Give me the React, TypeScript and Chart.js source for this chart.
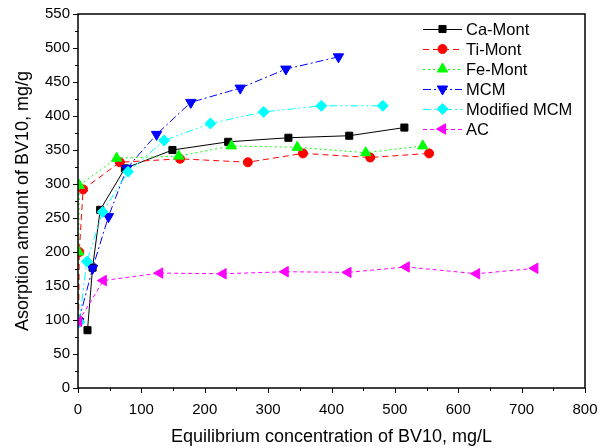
import React, { useEffect, useRef } from "react";
import { Chart, registerables } from "chart.js";

Chart.register(...registerables);

// ---- data ----
const caMontX = [15, 23, 35, 74, 149, 237, 332, 428, 515];
const caMontY = [85, 177, 262, 323, 350, 362, 368, 371, 383];

const tiMontX = [1, 2, 8, 66, 161, 268, 355, 461, 554];
const tiMontY = [100, 200, 292, 332, 337, 332, 345, 339, 345];

const feMontX = [0, 1, 2, 61, 159, 242, 346, 454, 544];
const feMontY = [100, 200, 298, 338, 341, 356, 354, 346, 356];

const mcmX = [1, 23, 48, 77, 124, 178, 256, 328, 411];
const mcmY = [98, 176, 252, 323, 373, 420, 441, 469, 487];

const modMcmX = [2, 14, 39, 79, 136, 209, 293, 384, 481];
const modMcmY = [97, 186, 259, 318, 364, 389, 406, 415, 415];

const acX = [1, 40, 129, 229, 327, 426, 518, 629, 721];
const acY = [98, 158, 169, 168, 171, 170, 178, 168, 176];

const seriesLabels = ["Ca-Mont", "Ti-Mont", "Fe-Mont", "MCM", "Modified MCM", "AC"];

const xTitle = "Equilibrium concentration of BV10, mg/L";
const yTitle = "Asorption amount of BV10, mg/g";

const FONT = "'Liberation Sans', Arial, sans-serif";

const styles = [
  { color: "#000000", dash: [] as number[], point: "rect", rot: 0, r: 5 },
  { color: "#ff0000", dash: [6, 4], point: "circle", rot: 0, r: 4.5 },
  { color: "#00ff00", dash: [2, 3], point: "triangle", rot: 0, r: 6 },
  { color: "#0000ff", dash: [8, 3, 2, 3], point: "triangle", rot: 180, r: 6 },
  { color: "#00ffff", dash: [8, 3, 2, 3, 2, 3], point: "rectRot", rot: 0, r: 5.5 },
  { color: "#ff00ff", dash: [4, 3], point: "triangle", rot: 270, r: 6 },
];

const xs = [caMontX, tiMontX, feMontX, mcmX, modMcmX, acX];
const ys = [caMontY, tiMontY, feMontY, mcmY, modMcmY, acY];

function drawMarker(ctx: CanvasRenderingContext2D, style: string, x: number, y: number, r: number, rotDeg: number) {
  const rad = (rotDeg * Math.PI) / 180;
  ctx.beginPath();
  if (style === "circle") {
    ctx.arc(x, y, r, 0, Math.PI * 2);
  } else if (style === "rect") {
    const s = Math.SQRT1_2 * r;
    ctx.rect(x - s, y - s, 2 * s, 2 * s);
  } else if (style === "rectRot") {
    ctx.moveTo(x, y - r);
    ctx.lineTo(x + r, y);
    ctx.lineTo(x, y + r);
    ctx.lineTo(x - r, y);
    ctx.closePath();
  } else if (style === "triangle") {
    let a = rad;
    ctx.moveTo(x + Math.sin(a) * r, y - Math.cos(a) * r);
    a += (2 * Math.PI) / 3;
    ctx.lineTo(x + Math.sin(a) * r, y - Math.cos(a) * r);
    a += (2 * Math.PI) / 3;
    ctx.lineTo(x + Math.sin(a) * r, y - Math.cos(a) * r);
    ctx.closePath();
  }
  ctx.fill();
  ctx.lineWidth = 1;
  ctx.stroke();
}

const framePlugin = {
  id: "frameTicksLegend",
  afterDraw(chart: any) {
    const { ctx, chartArea } = chart;
    const { left, right, top, bottom } = chartArea;
    const xs_ = chart.scales.x;
    const ys_ = chart.scales.y;
    ctx.save();
    ctx.strokeStyle = "#000";
    ctx.setLineDash([]);
    // ticks (major + minor, outward)
    ctx.lineWidth = 1;
    ctx.beginPath();
    for (let v = 0; v <= 800; v += 50) {
      const px = Math.round(xs_.getPixelForValue(v)) + 0.5;
      const len = v % 100 === 0 ? 5 : 3;
      ctx.moveTo(px, bottom);
      ctx.lineTo(px, bottom + len);
    }
    for (let v = 0; v <= 550; v += 25) {
      const py = Math.round(ys_.getPixelForValue(v)) + 0.5;
      const len = v % 50 === 0 ? 5 : 3;
      ctx.moveTo(left, py);
      ctx.lineTo(left - len, py);
    }
    ctx.stroke();
    // frame
    ctx.lineWidth = 1.5;
    ctx.strokeRect(left, top, right - left, bottom - top);
    // legend
    const lx0 = 423;
    const lx1 = 462;
    const ly0 = 29;
    const dy = 20;
    ctx.font = `16.5px ${FONT}`;
    ctx.textBaseline = "middle";
    ctx.textAlign = "left";
    chart.data.datasets.forEach((ds: any, i: number) => {
      const y = ly0 + i * dy;
      ctx.save();
      ctx.strokeStyle = ds.borderColor;
      ctx.lineWidth = 1;
      ctx.setLineDash(ds.borderDash || []);
      ctx.beginPath();
      ctx.moveTo(lx0, y + 0.5);
      ctx.lineTo(lx1, y + 0.5);
      ctx.stroke();
      ctx.setLineDash([]);
      ctx.fillStyle = ds.pointBackgroundColor;
      ctx.strokeStyle = ds.pointBorderColor;
      drawMarker(ctx, ds.pointStyle, (lx0 + lx1) / 2, y, ds.pointRadius, ds.pointRotation);
      ctx.restore();
      ctx.fillStyle = "#000";
      ctx.fillText(ds.label, 466, y + 1);
    });
    ctx.restore();
  },
};

export default function App() {
  const ref = useRef<HTMLCanvasElement | null>(null);

  useEffect(() => {
    if (!ref.current) return;
    const datasets = seriesLabels.map((label, i) => {
      const st = styles[i];
      return {
        label,
        data: xs[i].map((x, j) => ({ x, y: ys[i][j] })),
        showLine: true,
        borderColor: st.color,
        backgroundColor: st.color,
        borderWidth: 1,
        borderDash: st.dash,
        pointStyle: st.point,
        pointRotation: st.rot,
        pointRadius: st.r,
        pointBackgroundColor: st.color,
        pointBorderColor: st.color,
        pointBorderWidth: 1,
        tension: 0,
        order: seriesLabels.length - i,
      };
    });

    const chart = new Chart(ref.current, {
      type: "scatter",
      data: { datasets },
      options: {
        animation: false,
        responsive: false,
        maintainAspectRatio: false,
        layout: { padding: { top: 14, right: 25, left: 0, bottom: 0 } },
        plugins: {
          legend: { display: false },
          tooltip: { enabled: false },
        },
        scales: {
          x: {
            type: "linear",
            min: 0,
            max: 800,
            afterFit: (s: any) => {
              s.height = 60;
            },
            ticks: {
              stepSize: 100,
              color: "#000",
              font: { family: FONT, size: 15 },
              padding: 8,
              maxRotation: 0,
            },
            grid: { display: true, drawOnChartArea: false, color: "rgba(0,0,0,0)", tickLength: 5 },
            border: { display: false },
            title: {
              display: true,
              text: xTitle,
              color: "#000",
              font: { family: FONT, size: 18 },
              padding: { top: 0, bottom: 0 },
            },
          },
          y: {
            type: "linear",
            min: 0,
            max: 550,
            afterFit: (s: any) => {
              s.width = 78;
            },
            ticks: {
              stepSize: 50,
              color: "#000",
              font: { family: FONT, size: 15 },
              padding: 3,
            },
            grid: { display: true, drawOnChartArea: false, color: "rgba(0,0,0,0)", tickLength: 5 },
            border: { display: false },
            title: {
              display: true,
              text: yTitle,
              color: "#000",
              font: { family: FONT, size: 18 },
              padding: { top: 12, bottom: 0 },
            },
          },
        },
      },
      plugins: [framePlugin],
    });
    return () => chart.destroy();
  }, []);

  return (
    <div style={{ position: "fixed", left: 0, top: 0, width: 610, height: 448, background: "#fff" }}>
      <canvas ref={ref} width={610} height={448} style={{ display: "block" }} />
    </div>
  );
}
